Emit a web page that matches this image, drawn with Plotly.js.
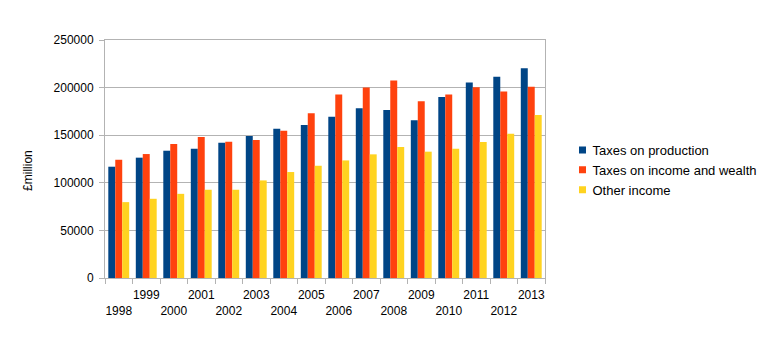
<!DOCTYPE html>
<html>
<head>
<meta charset="utf-8">
<script src="https://cdn.plot.ly/plotly-3.0.1.min.js"></script>
<style>html,body{margin:0;padding:0;background:#fff;}#chart{width:768px;height:340px;}</style>
</head>
<body>
<div id="chart"></div>
<script>
var years = ["1998","1999","2000","2001","2002","2003","2004","2005","2006","2007","2008","2009","2010","2011","2012","2013"];
var taxesProduction = [116900,126400,133700,135800,142200,149200,156900,160800,169500,178300,176600,165700,190200,205300,211300,220400];
var taxesIncomeWealth = [124200,130200,140700,148100,143200,145000,154800,173000,192700,200000,207400,185700,192700,200400,195900,200800];
var otherIncome = [79700,83200,88400,92700,92700,102500,111300,117900,123500,129900,137600,132700,135800,142900,151600,171300];
var seriesNames = ["Taxes on production","Taxes on income and wealth","Other income"];
var yTicks = [0,50000,100000,150000,200000,250000];

var colors = ["#004586","#ff420e","#ffd320"];
var font = "Liberation Sans, Arial, sans-serif";
var tickText = years.map(function(y,i){ return i % 2 === 0 ? " <br>" + y : y; });

var data = [taxesProduction, taxesIncomeWealth, otherIncome].map(function(vals,i){
  return {type:"bar", x:years, y:vals, name:seriesNames[i],
    marker:{color:colors[i], line:{width:0}}, hoverinfo:"none"};
});

var layout = {
  width:768, height:340,
  margin:{l:105, r:223, t:40, b:62, pad:0, autoexpand:false},
  paper_bgcolor:"#fff", plot_bgcolor:"#fff",
  font:{family:font, size:12, color:"#000"},
  barmode:"group", bargap:0.24, bargroupgap:0,
  showlegend:true,
  legend:{xref:"container", yref:"container", x:0.7194, xanchor:"left", y:0.5, yanchor:"middle",
    font:{size:13, family:font}, itemwidth:30, bgcolor:"rgba(0,0,0,0)", tracegroupgap:0},
  xaxis:{type:"category", tickson:"boundaries", ticks:"outside", ticklen:5, tickcolor:"#b3b3b3",
    showline:true, linecolor:"#b3b3b3", linewidth:1, mirror:true, showgrid:false, ticklabelstandoff:6,
    tickvals:years, ticktext:tickText, tickangle:0, tickfont:{size:12, family:font}},
  yaxis:{range:[0,250000], tickvals:yTicks, ticktext:yTicks.map(String), ticks:"outside", ticklen:5,
    tickcolor:"#b3b3b3", showline:true, linecolor:"#b3b3b3", linewidth:1, mirror:true, ticklabelstandoff:3,
    showgrid:true, gridcolor:"#b3b3b3", gridwidth:1, zeroline:false, tickfont:{size:12, family:font}},
  annotations:[{text:"£million", xref:"paper", yref:"paper", x:-0.175, y:0.45, textangle:-90,
    showarrow:false, font:{size:12, family:font}, xanchor:"center", yanchor:"middle"}]
};
Plotly.newPlot("chart", data, layout, {staticPlot:true, displayModeBar:false}).then(function(gd){
  var pts = gd.querySelectorAll(".legend .legendpoints path");
  pts.forEach(function(p){
    p.setAttribute("d", "M3.5,3.5H-3.5V-3.5H3.5Z");
    p.setAttribute("transform", "translate(30,0)");
    p.style.strokeWidth = "0px";
  });
});
</script>
</body>
</html>
